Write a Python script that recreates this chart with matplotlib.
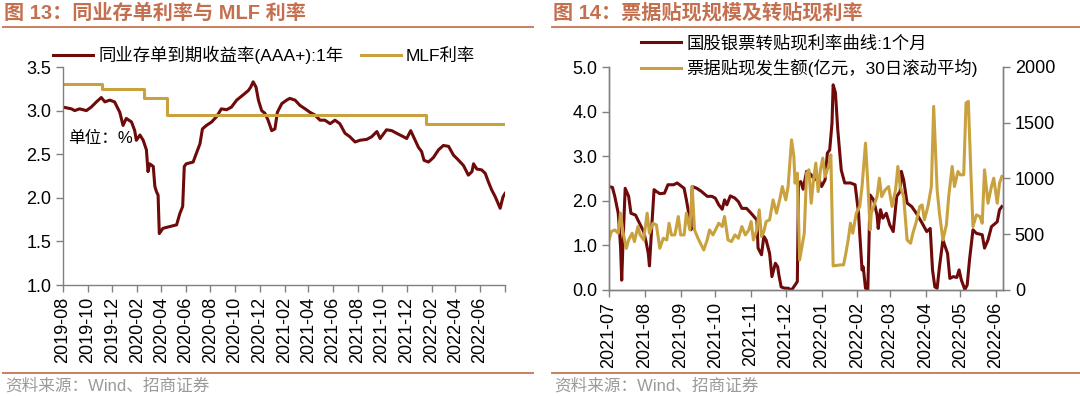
import matplotlib
matplotlib.use("Agg")
import matplotlib.pyplot as plt
import pandas as pd

plt.rcParams['font.family'] = ['Liberation Sans', 'Noto Sans CJK SC', 'DejaVu Sans']
plt.rcParams['axes.unicode_minus'] = False

maroon = '#6E0A0A'
gold = '#C9A23F'
brand = '#C4704F'
brand_line = '#C8805F'
grey_txt = '#9A9A9A'
spine_col = '#808080'

# ---- figure 13: interbank CD yield vs MLF ----
cd_dates = [
    '2019-08-01', '2019-08-22', '2019-08-30', '2019-09-11', '2019-09-28', '2019-10-10',
    '2019-10-23', '2019-11-04', '2019-11-13', '2019-11-25', '2019-12-07', '2019-12-20',
    '2019-12-28', '2020-01-05', '2020-01-18', '2020-01-26', '2020-01-30', '2020-02-08',
    '2020-02-16', '2020-02-24', '2020-02-28', '2020-03-03', '2020-03-12', '2020-03-16',
    '2020-03-20', '2020-03-24', '2020-03-27', '2020-04-05', '2020-04-22', '2020-05-09',
    '2020-05-17', '2020-05-24', '2020-05-28', '2020-06-02', '2020-06-19', '2020-06-27',
    '2020-07-06', '2020-07-12', '2020-07-22', '2020-08-04', '2020-08-16', '2020-08-28',
    '2020-09-10', '2020-09-22', '2020-10-05', '2020-10-21', '2020-11-03', '2020-11-09',
    '2020-11-15', '2020-11-22', '2020-11-28', '2020-12-06', '2020-12-14', '2020-12-22',
    '2020-12-31', '2021-01-08', '2021-01-14', '2021-01-25', '2021-02-06', '2021-02-14',
    '2021-02-27', '2021-03-11', '2021-03-24', '2021-04-05', '2021-04-17', '2021-04-30',
    '2021-05-12', '2021-05-25', '2021-06-06', '2021-06-18', '2021-07-01', '2021-07-13',
    '2021-07-26', '2021-08-07', '2021-08-24', '2021-09-05', '2021-09-18', '2021-09-26',
    '2021-10-12', '2021-10-25', '2021-11-06', '2021-11-23', '2021-12-01', '2021-12-11',
    '2021-12-22', '2021-12-30', '2022-01-07', '2022-01-13', '2022-01-24', '2022-02-05',
    '2022-02-18', '2022-03-02', '2022-03-15', '2022-03-27', '2022-04-09', '2022-04-21',
    '2022-05-03', '2022-05-12', '2022-05-16', '2022-05-24', '2022-06-05', '2022-06-14',
    '2022-06-22', '2022-06-30', '2022-07-09', '2022-07-21', '2022-07-28', '2022-08-02',
]
cd_yield = [
    3.04, 3.02, 3.00, 3.02, 3.00, 3.04,
    3.10, 3.15, 3.10, 3.12, 3.10, 2.98,
    2.83, 2.91, 2.87, 2.77, 2.66, 2.72,
    2.66, 2.55, 2.30, 2.39, 2.36, 2.13,
    2.07, 2.03, 1.59, 1.65, 1.67, 1.69,
    1.82, 1.90, 2.36, 2.39, 2.41, 2.51,
    2.62, 2.79, 2.83, 2.87, 2.93, 3.02,
    3.01, 3.04, 3.12, 3.18, 3.23, 3.27,
    3.33, 3.27, 3.12, 3.00, 2.97, 2.89,
    2.77, 2.79, 2.98, 3.08, 3.12, 3.14,
    3.12, 3.06, 3.02, 2.98, 2.95, 2.89,
    2.89, 2.85, 2.89, 2.85, 2.74, 2.70,
    2.64, 2.66, 2.67, 2.70, 2.76, 2.68,
    2.78, 2.77, 2.74, 2.70, 2.68, 2.77,
    2.66, 2.58, 2.53, 2.43, 2.41, 2.46,
    2.55, 2.60, 2.59, 2.49, 2.43, 2.37,
    2.26, 2.30, 2.39, 2.33, 2.32, 2.28,
    2.18, 2.09, 2.01, 1.88, 2.01, 2.05,
]
mlf_dates = ['2019-08-01', '2019-11-05', '2020-02-17', '2020-04-15', '2022-01-17', '2022-08-02']
mlf_rate = [3.30, 3.25, 3.15, 2.95, 2.85, 2.85]

# ---- figure 14: bill discount volume and rediscount rate ----
rate_dates = [
    '2021-07-01', '2021-07-04', '2021-07-06', '2021-07-09', '2021-07-11', '2021-07-12',
    '2021-07-13', '2021-07-15', '2021-07-18', '2021-07-20', '2021-07-24', '2021-07-26',
    '2021-07-31', '2021-08-02', '2021-08-04', '2021-08-05', '2021-08-07', '2021-08-09',
    '2021-08-11', '2021-08-14', '2021-08-18', '2021-08-21', '2021-08-26', '2021-08-29',
    '2021-08-31', '2021-09-04', '2021-09-06', '2021-09-08', '2021-09-10', '2021-09-11',
    '2021-09-15', '2021-09-19', '2021-09-24', '2021-09-28', '2021-10-01', '2021-10-04',
    '2021-10-07', '2021-10-09', '2021-10-11', '2021-10-14', '2021-10-18', '2021-10-21',
    '2021-10-24', '2021-10-28', '2021-11-01', '2021-11-06', '2021-11-07', '2021-11-10',
    '2021-11-12', '2021-11-14', '2021-11-17', '2021-11-19', '2021-11-22', '2021-11-24',
    '2021-11-25', '2021-11-27', '2021-11-30', '2021-12-03', '2021-12-06', '2021-12-09',
    '2021-12-11', '2021-12-12', '2021-12-14', '2021-12-16', '2021-12-19', '2021-12-21',
    '2021-12-23', '2021-12-26', '2021-12-29', '2022-01-01', '2022-01-04', '2022-01-06',
    '2022-01-08', '2022-01-10', '2022-01-11', '2022-01-13', '2022-01-15', '2022-01-18',
    '2022-01-21', '2022-01-26', '2022-01-30', '2022-02-02', '2022-02-03', '2022-02-05',
    '2022-02-06', '2022-02-08', '2022-02-10', '2022-02-12', '2022-02-15', '2022-02-18',
    '2022-02-19', '2022-02-21', '2022-02-23', '2022-02-26', '2022-03-01', '2022-03-04',
    '2022-03-07', '2022-03-10', '2022-03-11', '2022-03-13', '2022-03-16', '2022-03-20',
    '2022-03-24', '2022-03-29', '2022-04-02', '2022-04-05', '2022-04-07', '2022-04-09',
    '2022-04-11', '2022-04-13', '2022-04-16', '2022-04-20', '2022-04-22', '2022-04-25',
    '2022-04-28', '2022-04-30', '2022-05-02', '2022-05-05', '2022-05-07', '2022-05-09',
    '2022-05-12', '2022-05-15', '2022-05-20', '2022-05-22', '2022-05-25', '2022-05-28',
    '2022-06-02', '2022-06-04', '2022-06-06',
]
rediscount_rate = [
    2.32, 2.30, 2.10, 1.72, 0.97, 0.22,
    0.97, 2.28, 2.10, 1.72, 1.68, 1.57,
    1.31, 1.09, 0.82, 0.54, 1.42, 2.25,
    2.21, 2.16, 2.17, 2.36, 2.36, 2.40,
    2.36, 2.28, 2.02, 1.72, 1.35, 2.32,
    2.28, 2.21, 2.10, 2.10, 2.06, 1.91,
    1.81, 2.02, 1.91, 2.11, 2.06, 1.98,
    1.83, 1.83, 1.72, 1.57, 0.94, 0.79,
    1.20, 1.12, 0.82, 0.30, 0.60, 0.52,
    0.34, 0.07, 0.04, 0.04, 0.00, 0.11,
    0.19, 2.40, 2.43, 2.26, 2.66, 2.63,
    2.58, 2.47, 2.54, 2.32, 2.47, 3.07,
    3.14, 3.74, 4.60, 4.42, 3.59, 2.69,
    2.40, 2.40, 2.36, 1.72, 1.27, 0.45,
    0.52, 0.04, 0.00, 2.13, 2.02, 1.68,
    1.38, 1.80, 1.61, 1.72, 1.46, 1.31,
    2.10, 2.21, 2.66, 2.47, 1.95, 1.87,
    1.72, 1.50, 1.31, 1.38, 0.45, 0.07,
    0.04, 0.52, 1.12, 0.82, 0.26, 0.30,
    0.28, 0.45, 0.22, 0.01, 0.11, 0.67,
    1.35, 1.27, 1.24, 0.94, 1.12, 1.42,
    1.53, 1.80, 1.87,
]
vol_dates = [
    '2021-07-01', '2021-07-03', '2021-07-06', '2021-07-09', '2021-07-11', '2021-07-13',
    '2021-07-16', '2021-07-18', '2021-07-21', '2021-07-23', '2021-07-26', '2021-07-28',
    '2021-07-31', '2021-08-03', '2021-08-05', '2021-08-08', '2021-08-11', '2021-08-14',
    '2021-08-17', '2021-08-20', '2021-08-22', '2021-08-24', '2021-08-27', '2021-08-30',
    '2021-09-01', '2021-09-04', '2021-09-06', '2021-09-09', '2021-09-11', '2021-09-13',
    '2021-09-16', '2021-09-21', '2021-09-24', '2021-09-26', '2021-09-29', '2021-10-04',
    '2021-10-07', '2021-10-09', '2021-10-12', '2021-10-15', '2021-10-18', '2021-10-21',
    '2021-10-24', '2021-10-27', '2021-10-30', '2021-11-01', '2021-11-03', '2021-11-06',
    '2021-11-08', '2021-11-10', '2021-11-12', '2021-11-14', '2021-11-17', '2021-11-20',
    '2021-11-23', '2021-11-26', '2021-11-28', '2021-12-01', '2021-12-03', '2021-12-06',
    '2021-12-08', '2021-12-09', '2021-12-11', '2021-12-13', '2021-12-15', '2021-12-17',
    '2021-12-19', '2021-12-21', '2021-12-23', '2021-12-25', '2021-12-27', '2021-12-29',
    '2021-12-31', '2022-01-02', '2022-01-04', '2022-01-07', '2022-01-09', '2022-01-11',
    '2022-01-17', '2022-01-20', '2022-01-22', '2022-01-24', '2022-01-26', '2022-01-28',
    '2022-01-31', '2022-02-03', '2022-02-05', '2022-02-08', '2022-02-10', '2022-02-12',
    '2022-02-13', '2022-02-16', '2022-02-18', '2022-02-20', '2022-02-22', '2022-02-25',
    '2022-02-28', '2022-03-03', '2022-03-06', '2022-03-08', '2022-03-10', '2022-03-13',
    '2022-03-16', '2022-03-19', '2022-03-21', '2022-03-24', '2022-03-27', '2022-03-29',
    '2022-03-31', '2022-04-03', '2022-04-06', '2022-04-08', '2022-04-11', '2022-04-13',
    '2022-04-16', '2022-04-19', '2022-04-21', '2022-04-23', '2022-04-24', '2022-04-26',
    '2022-04-29', '2022-05-01', '2022-05-04', '2022-05-06', '2022-05-08', '2022-05-10',
    '2022-05-12', '2022-05-15', '2022-05-18', '2022-05-20', '2022-05-22', '2022-05-25',
    '2022-05-28', '2022-05-30', '2022-06-02', '2022-06-04', '2022-06-06',
]
discount_volume = [
    449, 524, 539, 509, 689, 524,
    374, 449, 509, 434, 569, 494,
    449, 689, 509, 599, 584, 374,
    464, 449, 599, 494, 494, 659,
    494, 494, 689, 539, 928, 539,
    464, 359, 449, 539, 494, 599,
    569, 659, 449, 434, 494, 464,
    569, 494, 539, 614, 449, 539,
    719, 479, 524, 614, 629, 808,
    689, 823, 928, 808, 928, 1347,
    1198, 958, 1048, 269, 389, 509,
    1048, 1078, 778, 988, 1138, 883,
    1078, 1183, 1018, 1108, 1213, 216,
    225, 225, 329, 449, 599, 509,
    689, 749, 928, 1317, 958, 539,
    689, 778, 838, 1003, 838, 898,
    928, 749, 898, 1108, 928, 838,
    449, 419, 509, 614, 749, 763,
    629, 749, 928, 1647, 898, 689,
    449, 584, 838, 1018, 1108, 928,
    1063, 1033, 1033, 1677, 1692, 1108,
    569, 674, 659, 599, 1078, 778,
    928, 1003, 778, 958, 1018,
]

cd_x = pd.to_datetime(cd_dates)
mlf_x = pd.to_datetime(mlf_dates)
rate_x = pd.to_datetime(rate_dates)
vol_x = pd.to_datetime(vol_dates)

W, H = 1080, 396
fig = plt.figure(figsize=(W / 100, H / 100), dpi=100)


def fx(px):
    return px / W


def fy(py):
    return 1 - py / H


def style_axis(ax):
    for side in ('left', 'right', 'bottom', 'top'):
        ax.spines[side].set_color(spine_col)
        ax.spines[side].set_linewidth(1.0)
    ax.tick_params(axis='both', colors=spine_col, labelcolor='black',
                   labelsize=13, length=5, width=1.0, direction='out')


# ---------- left panel ----------
ax1 = fig.add_axes([fx(63), fy(285), fx(505 - 63), (285 - 67) / H])
l_cd, = ax1.plot(cd_x, cd_yield, color=maroon, lw=2.2, label='同业存单到期收益率(AAA+):1年')
l_mlf, = ax1.step(mlf_x, mlf_rate, where='post', color=gold, lw=2.2, label='MLF利率')
ax1.set_ylim(1.0, 3.5)
ax1.set_yticks([1.0, 1.5, 2.0, 2.5, 3.0, 3.5])
ax1.yaxis.set_major_formatter(plt.FormatStrFormatter('%.1f'))
ax1.set_xlim(pd.Timestamp('2019-08-01'), pd.Timestamp('2022-08-02'))
ticks1 = pd.date_range('2019-08-01', '2022-08-01', freq='2MS')
ax1.set_xticks(ticks1)
ax1.set_xticklabels([t.strftime('%Y-%m') for t in ticks1[:-1]] + [''], rotation=90)
ax1.spines['top'].set_visible(False)
ax1.spines['right'].set_visible(False)
style_axis(ax1)
ax1.text(fx(68), fy(138), '单位：%', transform=fig.transFigure, fontsize=12,
         va='center', ha='left')

fig.legend(handles=[l_cd, l_mlf], loc='center left', bbox_to_anchor=(fx(53), fy(55)),
           ncol=2, frameon=False, fontsize=12.5, handlelength=2.3, handletextpad=0.3,
           columnspacing=1.0, borderpad=0, borderaxespad=0)

# ---------- right panel ----------
ax2 = fig.add_axes([fx(609), fy(290), fx(1003 - 609), (290 - 67) / H])
ax3 = ax2.twinx()
l_rate, = ax2.plot(rate_x, rediscount_rate, color=maroon, lw=2.2, label='国股银票转贴现利率曲线:1个月')
l_vol, = ax3.plot(vol_x, discount_volume, color=gold, lw=2.2, label='票据贴现发生额(亿元，30日滚动平均)')
ax2.set_ylim(0, 5.0)
ax2.set_yticks([0, 1, 2, 3, 4, 5])
ax2.yaxis.set_major_formatter(plt.FormatStrFormatter('%.1f'))
ax3.set_ylim(0, 2000)
ax3.set_yticks([0, 500, 1000, 1500, 2000])
ax2.set_xlim(pd.Timestamp('2021-07-01'), pd.Timestamp('2022-06-07'))
ticks2 = pd.date_range('2021-07-01', '2022-06-01', freq='MS')
ax2.set_xticks(ticks2)
ax2.set_xticklabels([t.strftime('%Y-%m') for t in ticks2], rotation=90)
for a in (ax2, ax3):
    a.spines['top'].set_visible(False)
    style_axis(a)

fig.legend(handles=[l_rate, l_vol], loc='center left', bbox_to_anchor=(fx(641), fy(56)),
           ncol=1, frameon=False, fontsize=12.5, handlelength=2.3, handletextpad=0.3,
           labelspacing=0.45, borderpad=0, borderaxespad=0)

# ---------- titles, rules and sources ----------
for x0, x1, title in [(3, 533, '图 13：同业存单利率与 MLF 利率'),
                      (552, 1080, '图 14：票据贴现规模及转贴现利率')]:
    fig.text(fx(x0 + 1), fy(13), title, fontsize=14.5, fontweight='bold', color=brand,
             va='center', ha='left')
    fig.add_artist(plt.Line2D([fx(x0), fx(x1)], [fy(27), fy(27)], color=brand_line, lw=1.4))
    fig.add_artist(plt.Line2D([fx(x0), fx(x1)], [fy(373), fy(373)], color=brand_line, lw=1.4))
    fig.text(fx(x0 + 2), fy(386), '资料来源：Wind、招商证券', fontsize=12, color=grey_txt,
             va='center', ha='left')

fig.savefig('out.png', dpi=100)
